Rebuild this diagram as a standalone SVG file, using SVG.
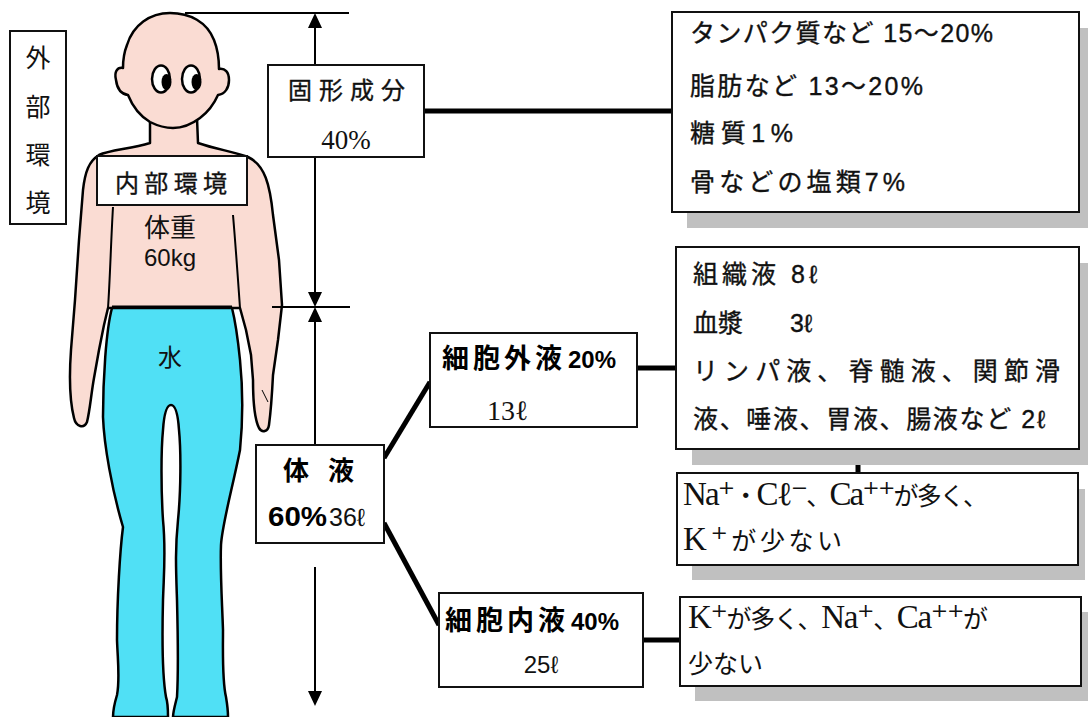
<svg xmlns="http://www.w3.org/2000/svg" width="1088" height="717" viewBox="0 0 1088 717">
  <style>
    .box{fill:#fff;stroke:#111;stroke-width:2}
    .shadow{fill:#c0c0c0}
    .thick{stroke:#000;stroke-width:5;fill:none}
    .thin{stroke:#000;stroke-width:2;fill:none}
    .skin{fill:#fadcd3;stroke:#000;stroke-width:2.5;stroke-linejoin:round}
    .water{fill:#50e0f5;stroke:#000;stroke-width:2.5;stroke-linejoin:round}
    .jp{font-family:"Noto Sans CJK JP",sans-serif;fill:#111}
    .jpb{font-family:"Noto Sans CJK JP",sans-serif;font-weight:bold;fill:#000}
    .sans{font-family:"Liberation Sans","Noto Sans CJK JP",sans-serif;fill:#111}
    .sansb{font-family:"Liberation Sans","Noto Sans CJK JP",sans-serif;font-weight:bold;fill:#000}
    .serif{font-family:"Liberation Serif","Noto Sans CJK JP",serif;fill:#111}
    .heavy{stroke:#111;stroke-width:0.35}
    .ion{font-family:"Liberation Serif","DejaVu Serif","Noto Sans CJK JP",serif;font-size:33px;fill:#111}
    .kana{font-family:"Noto Sans CJK JP",sans-serif;font-size:25px}
    .pupil{fill:#000}
  </style>

  <!-- outside environment label -->
  <g id="outer-env">
    <rect class="box" x="10" y="31" width="56" height="193"/>
    <g class="jp" font-size="25" text-anchor="middle">
      <text x="38" y="67">外</text>
      <text x="38" y="116">部</text>
      <text x="38" y="164">環</text>
      <text x="38" y="212">境</text>
    </g>
  </g>

  <!-- human figure -->
  <g id="figure">
    <!-- torso and arms -->
    <path class="skin" d="M150,118 L150,143 C130,149 110,150 99,155 C89,161 85,172 83,190 L79,240 L75,300 L71,350 C69,378 70,402 74,418 C76,427 84,429 87,422 C90,410 91,395 94,378 L99,350 L104,325 L108,308 L240,308 L246,330 L251,355 L253,380 C253,400 254,418 259,428 C262,433 268,432 269,425 C271,410 272,395 273,375 L278,340 L282,305 L279,260 L273,215 C270,185 265,165 248,157 C235,152 215,149 198,143 L197,118 Z"/>
    <path class="thin" d="M113,207 C111,240 110,280 108,308"/>
    <path class="thin" d="M233,215 C236,250 238,280 240,308"/>
    <path d="M262,390 L268,402" stroke="#000" stroke-width="1" fill="none"/>
    <!-- head -->
    <path class="skin" d="M170,13 C150,13 133,25 127,45 C123,55 123,62 123,68 C117,67 114,72 116,80 C117,88 121,94 128,95 C132,105 140,116 150,122 C158,126 164,128 173,128 C183,128 192,124 200,118 C208,112 214,104 218,95 C225,94 229,88 229,80 C229,72 225,68 219,69 C219,60 218,50 214,40 C207,22 190,13 170,13 Z"/>
    <ellipse cx="161" cy="79" rx="9" ry="13.5" fill="#fff" stroke="#000" stroke-width="2.5"/>
    <ellipse class="pupil" cx="166.5" cy="82" rx="5" ry="8"/>
    <ellipse cx="191" cy="79" rx="9" ry="13.5" fill="#fff" stroke="#000" stroke-width="2.5"/>
    <ellipse class="pupil" cx="196.5" cy="82" rx="5" ry="8"/>
    <!-- legs (water) -->
    <path class="water" d="M112,308 C106,330 103,380 103,417 C104,445 112,490 123,527 C120,550 117,600 117,640 C118,665 120,680 117,695 C114,705 113,712 113,717 L168,717 C168,710 168,703 166,697 C163,680 162,640 163,600 C164,570 166,550 163,520 C161,490 161,450 163,430 C164,415 166,405 171,405 C176,405 178,415 179,430 C181,450 181,490 178,520 C175,550 176,570 177,600 C178,640 178,680 177,697 C175,705 173,712 173,717 L228,717 C228,710 227,703 226,697 C222,680 223,650 223,630 C222,600 220,570 221,545 C222,525 232,490 240,450 C243,420 243,390 240,360 C238,340 235,320 232,308 Z"/>
    <line x1="112" y1="307" x2="232" y2="307" stroke="#000" stroke-width="3"/>
  </g>

  <g id="inner-env">
    <rect class="box" x="97" y="156" width="150" height="49"/>
    <text class="jp heavy" x="115" y="192" font-size="24" textLength="112" lengthAdjust="spacing">内部環境</text>
  </g>

  <g id="body-weight">
    <text class="jp" x="170" y="237" font-size="26" text-anchor="middle">体重</text>
    <text class="sans" x="170" y="266" font-size="24" text-anchor="middle">60kg</text>
  </g>

  <g id="water-label">
    <text class="jp" x="170" y="366" font-size="24" text-anchor="middle">水</text>
  </g>

  <!-- connectors and dimension arrows -->
  <g id="connectors">
    <line class="thin" x1="185" y1="13" x2="349" y2="13"/>
    <line class="thin" x1="315" y1="26" x2="315" y2="295"/>
    <polygon points="315,13 308,28 322,28"/>
    <polygon points="315,307 308,292 322,292"/>
    <line class="thin" x1="272" y1="307" x2="350" y2="307"/>
    <polygon points="315,307 308,322 322,322"/>
    <line class="thin" x1="315" y1="320" x2="315" y2="445"/>
    <line class="thin" x1="315" y1="567" x2="315" y2="693"/>
    <polygon points="315,706 308,691 322,691"/>
    <line class="thick" x1="424" y1="111" x2="672" y2="111"/>
    <line class="thick" x1="384" y1="458" x2="430" y2="382"/>
    <line class="thick" x1="384" y1="523" x2="439" y2="625"/>
    <line class="thick" x1="637" y1="368" x2="676" y2="368"/>
    <line class="thick" x1="858" y1="449" x2="858" y2="473"/>
    <line class="thick" x1="643" y1="640" x2="680" y2="640"/>
  </g>

  <g id="solids">
    <rect class="box" x="268" y="65" width="156" height="92"/>
    <text class="jp heavy" x="288" y="99" font-size="24" textLength="117" lengthAdjust="spacing">固形成分</text>
    <text class="serif" x="346" y="149" font-size="27" text-anchor="middle">40%</text>
  </g>

  <g id="solids-detail">
    <rect class="shadow" x="687" y="28" width="401" height="200"/>
    <rect class="box" x="672" y="12" width="407" height="200"/>
    <g class="sans heavy" font-size="25">
      <text x="690" y="42" textLength="303" lengthAdjust="spacing">タンパク質など 15～20%</text>
      <text x="690" y="95" textLength="233" lengthAdjust="spacing">脂肪など 13～20%</text>
      <text x="690" y="142" textLength="103" lengthAdjust="spacing">糖質1%</text>
      <text x="690" y="191" textLength="215" lengthAdjust="spacing">骨などの塩類7%</text>
    </g>
  </g>

  <g id="body-fluid">
    <rect class="box" x="256" y="445" width="128" height="98"/>
    <text class="jpb" x="283" y="480" font-size="26">体</text>
    <text class="jpb" x="328" y="480" font-size="26">液</text>
    <text class="sansb" x="268" y="526" font-size="27" textLength="59" lengthAdjust="spacingAndGlyphs">60%</text>
    <text class="sans" x="329" y="526" font-size="25">36ℓ</text>
  </g>

  <g id="extracellular">
    <rect class="box" x="430" y="333" width="207" height="94"/>
    <text class="jpb" x="442" y="368" font-size="27" textLength="120" lengthAdjust="spacing">細胞外液</text>
    <text class="sansb" x="568" y="368" font-size="24">20%</text>
    <text class="serif" x="487" y="420" font-size="28">13ℓ</text>
  </g>

  <g id="extracellular-detail">
    <rect class="shadow" x="692" y="263" width="396" height="202"/>
    <rect class="box" x="676" y="247" width="403" height="202"/>
    <g class="sans heavy" font-size="25">
      <text x="693" y="283" textLength="124" lengthAdjust="spacing">組織液 8ℓ</text>
      <text x="693" y="332">血漿<tspan x="790">3ℓ</tspan></text>
      <text x="693" y="380" textLength="367" lengthAdjust="spacing">リンパ液、脊髄液、関節滑</text>
      <text x="693" y="428" textLength="352" lengthAdjust="spacing">液、唾液、胃液、腸液など 2ℓ</text>
    </g>
  </g>

  <g id="extracellular-ions">
    <rect class="shadow" x="692" y="489" width="393" height="91"/>
    <rect class="box" x="677" y="473" width="401" height="92"/>
    <text class="ion" x="683" y="505" textLength="305" lengthAdjust="spacing">Na⁺<tspan class="kana">・</tspan>Cℓ⁻<tspan class="kana">、</tspan>Ca⁺⁺<tspan class="kana">が多く、</tspan></text>
    <text class="ion" x="683" y="550" textLength="159" lengthAdjust="spacing">K⁺<tspan class="kana">が少ない</tspan></text>
  </g>

  <g id="intracellular">
    <rect class="box" x="439" y="593" width="204" height="94"/>
    <text class="jpb" x="445" y="630" font-size="27" textLength="120" lengthAdjust="spacing">細胞内液</text>
    <text class="sansb" x="571" y="630" font-size="24">40%</text>
    <text class="sans" x="541" y="673" font-size="24" text-anchor="middle">25ℓ</text>
  </g>

  <g id="intracellular-ions">
    <rect class="shadow" x="695" y="612" width="393" height="89"/>
    <rect class="box" x="680" y="597" width="401" height="89"/>
    <text class="ion" x="688" y="628" textLength="300" lengthAdjust="spacing">K⁺<tspan class="kana">が多く、</tspan>Na⁺<tspan class="kana">、</tspan>Ca⁺⁺<tspan class="kana">が</tspan></text>
    <text class="kana" x="688" y="673" fill="#111">少ない</text>
  </g>
</svg>
